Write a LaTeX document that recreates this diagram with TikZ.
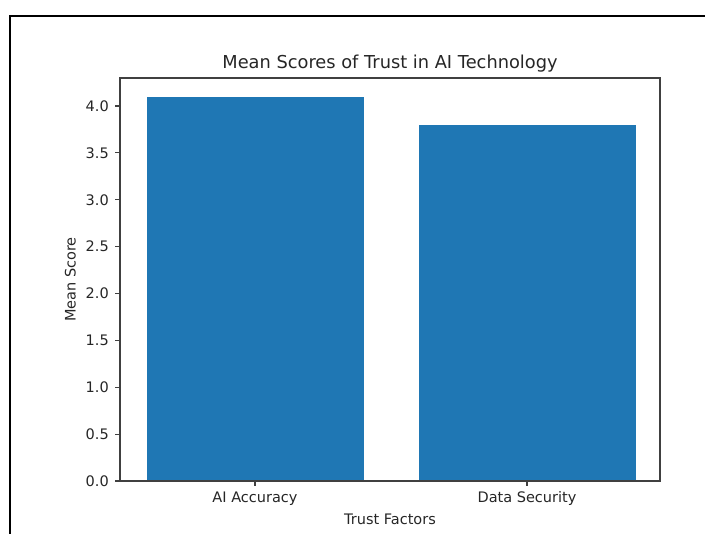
\documentclass[tikz,border=0pt]{standalone}
\usepackage{fontspec}
\setmainfont{DejaVu Sans}
\definecolor{barblue}{RGB}{31,119,180}

\begin{document}
\begin{tikzpicture}[x=1pt,y=-1pt,
  spine/.style={draw=black!75,line width=1.1pt},
  tickmark/.style={draw=black!75,line width=1.1pt},
  barbox/.style={fill=barblue},
  ticklabel/.style={font=\fontsize{14.5}{17}\selectfont,text=black!85,inner sep=0pt},
  axislabel/.style={font=\fontsize{14.5}{17}\selectfont,text=black!85,inner sep=0pt,anchor=base}]
 \useasboundingbox (0,0) rectangle (705,534);

 % frame of the page
 \draw[line width=2pt] (10,534) -- (10,16) -- (705,16);

 % bars
 \fill[barbox] (146.5,481) rectangle (364,96.6);
 \fill[barbox] (418.5,481) rectangle (636,124.75);

 % axes box
 \coordinate (ll) at (120,481);
 \coordinate (ur) at (660,78);
 \draw[spine] (ll) rectangle (ur);

 % y ticks
 \foreach \v in {0.0,0.5,1.0,1.5,2.0,2.5,3.0,3.5,4.0}{
   \coordinate (yt) at (120,{481-\v*93.75});
   \draw[tickmark] (yt) -- ++(-5,0);
   \node[ticklabel,anchor=east] (ylab) at ([xshift=-11pt]yt) {\v};
 }

 % x ticks
 \foreach \x/\name in {255/AI Accuracy,527/Data Security}{
   \coordinate (xt) at (\x,481);
   \draw[tickmark] (xt) -- ++(0,5);
   \node[axislabel] (xlab) at (\x,503) {\name};
 }

 \node[axislabel] (xtitle) at (390,525) {Trust Factors};
 \node[axislabel,rotate=90] (ytitle) at (75.5,279.5) {Mean Score};
 \node[axislabel,font=\fontsize{17.8}{21}\selectfont] (title) at (390,68.5) {Mean Scores of Trust in AI Technology};
\end{tikzpicture}
\end{document}
